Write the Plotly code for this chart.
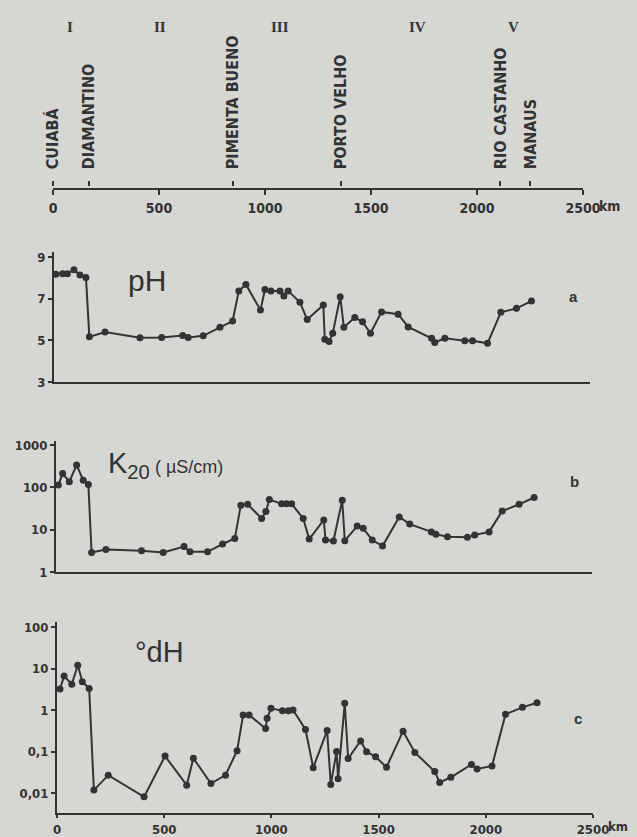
import plotly.graph_objects as go

W, H = 637, 837

# ---------------- data ----------------
ph_km = [9, 40, 62, 93, 121, 149, 165, 238, 401, 502, 600, 626, 696, 774, 833, 862, 895, 963, 984, 1012,
         1054, 1072, 1092, 1147, 1181, 1256, 1263, 1283, 1300, 1335, 1352, 1403, 1439, 1476, 1528, 1605,
         1652, 1761, 1776, 1823, 1916, 1952, 2022, 2084, 2157, 2227]
ph_val = [8.18, 8.2, 8.2, 8.4, 8.14, 8.03, 5.17, 5.4, 5.13, 5.14, 5.24, 5.14, 5.22, 5.63, 5.93, 7.38, 7.69,
          6.46, 7.45, 7.38, 7.38, 7.14, 7.38, 6.83, 6.0, 6.7, 5.05, 4.95, 5.34, 7.1, 5.63, 6.1, 5.9, 5.34,
          6.37, 6.26, 5.65, 5.1, 4.9, 5.1, 4.98, 4.98, 4.86, 6.35, 6.54, 6.89]

k_km = [11, 31, 62, 96, 127, 151, 166, 233, 399, 500, 597, 625, 707, 777, 834, 862, 894, 959, 979, 995,
        1052, 1075, 1099, 1153, 1181, 1249, 1257, 1294, 1335, 1347, 1405, 1433, 1475, 1523, 1601, 1650,
        1751, 1772, 1826, 1919, 1953, 2020, 2081, 2160, 2230]
k_val = [114, 215, 136, 340, 149, 118, 2.9, 3.4, 3.2, 2.9, 4.0, 3.0, 3.0, 4.6, 6.2, 38, 40, 18.5, 27, 52,
         41, 41, 41, 18.5, 6.0, 17, 5.7, 5.4, 50, 5.5, 12.2, 10.8, 5.7, 4.1, 20, 13.6,
         8.9, 7.8, 6.8, 6.6, 7.5, 8.9, 27.6, 40, 58]

dh_km = [14, 33, 69, 97, 118, 150, 172, 239, 406, 504, 605, 636, 718, 786, 840, 868, 896, 973, 980, 998,
         1051, 1079, 1101, 1159, 1195, 1260, 1277, 1304, 1311, 1342, 1358, 1416, 1444, 1486, 1537, 1614,
         1669, 1762, 1785, 1837, 1933, 1959, 2029, 2092, 2171, 2239]
dh_val = [3.2, 6.6, 4.2, 12, 4.8, 3.3, 0.0118, 0.027, 0.0081, 0.078, 0.0155, 0.069, 0.017, 0.027, 0.105,
          0.76, 0.76, 0.36, 0.63, 1.1, 0.96, 0.96, 1.0, 0.34, 0.041, 0.32, 0.016, 0.1, 0.022, 1.45, 0.068,
          0.18, 0.099, 0.075, 0.042, 0.31, 0.095, 0.033, 0.018, 0.024, 0.049, 0.038, 0.045, 0.79, 1.16, 1.5]

place_names = ["CUIABÁ", "DIAMANTINO", "PIMENTA BUENO", "PORTO VELHO", "RIO CASTANHO", "MANAUS"]
place_km = [0, 170, 847, 1357, 2110, 2252]
region_labels = ["I", "II", "III", "IV", "V"]
region_km = [80, 505, 1071, 1717, 2170]
dist_ticks = [0, 500, 1000, 1500, 2000, 2500]
dist_ticktext = ["0", "500", "1000", "1500", "2000", "2500"]
ph_ticks = [3, 5, 7, 9]
k_ticks = [1, 10, 100, 1000]
k_ticktext = ["1", "10", "100", "1000"]
dh_ticks = [0.01, 0.1, 1, 10, 100]
dh_ticktext = ["0,01", "0,1", "1", "10", "100"]

# ---------------- style ----------------
INK = "#333333"
BG = "#d6d6d3"
SANS = "DejaVu Sans Condensed, Liberation Sans, Arial"
SERIF = "Liberation Serif, DejaVu Serif, serif"


def px(x):
    return x / W


def py(y):
    return 1 - y / H


def series(x, y, xa, ya):
    return go.Scatter(x=x, y=y, xaxis=xa, yaxis=ya, mode="lines+markers",
                      line=dict(color=INK, width=2),
                      marker=dict(color=INK, size=7),
                      cliponaxis=False, showlegend=False, hoverinfo="x+y")


fig = go.Figure()
fig.add_trace(series(ph_km, ph_val, "x", "y"))
fig.add_trace(series(k_km, k_val, "x2", "y2"))
fig.add_trace(series(dh_km, dh_val, "x3", "y3"))
# invisible carriers for the top distance scale
fig.add_trace(go.Scatter(x=place_km, y=[0.5] * len(place_km), xaxis="x5", yaxis="y4",
                         mode="markers", marker=dict(opacity=0), showlegend=False, hoverinfo="skip"))
fig.add_trace(go.Scatter(x=dist_ticks, y=[0.5] * len(dist_ticks), xaxis="x4", yaxis="y4",
                         mode="markers", marker=dict(opacity=0), showlegend=False, hoverinfo="skip"))

TICKFONT = dict(family=SANS, size=14, color=INK, weight="bold")

base_x = dict(range=[0, 2500], showgrid=False, zeroline=False, showline=True,
              linecolor=INK, linewidth=2, fixedrange=True, automargin=False)
base_y = dict(showgrid=False, zeroline=False, showline=True, linecolor=INK, linewidth=2,
              ticks="outside", ticklen=4, tickwidth=1.5, tickcolor=INK, automargin=False,
              tickfont=dict(TICKFONT, size=13), fixedrange=True)

fig.update_layout(
    width=W, height=H,
    margin=dict(l=0, r=0, t=0, b=0, autoexpand=False),
    paper_bgcolor=BG, plot_bgcolor="rgba(0,0,0,0)",
    showlegend=False,
    # pH panel
    xaxis=dict(base_x, domain=[px(54), px(590)], anchor="y", ticks="", showticklabels=False),
    yaxis=dict(base_y, domain=[py(382), py(252)], range=[3, 9.25], anchor="x",
               tickvals=ph_ticks),
    # conductivity panel
    xaxis2=dict(base_x, domain=[px(56), px(592)], anchor="y2", ticks="", showticklabels=False),
    yaxis2=dict(base_y, domain=[py(572), py(441)], type="log", range=[0, 3.1], anchor="x2",
                tickvals=k_ticks, ticktext=k_ticktext),
    # hardness panel
    xaxis3=dict(base_x, domain=[px(57), px(593)], anchor="y3", ticks="outside", ticklen=3,
                tickwidth=1.5, tickcolor=INK, tickvals=dist_ticks, ticktext=dist_ticktext,
                ticklabelstandoff=0, tickfont=dict(TICKFONT, size=13)),
    yaxis3=dict(base_y, domain=[py(813), py(622)], type="log", range=[-2.48, 2.12], anchor="x3",
                tickvals=dh_ticks, ticktext=dh_ticktext),
    # top distance scale
    xaxis4=dict(base_x, domain=[px(53), px(583)], anchor="y4", ticks="outside", ticklen=5,
                tickwidth=1.5, tickcolor=INK, tickvals=dist_ticks, ticktext=dist_ticktext,
                ticklabelstandoff=1, tickfont=dict(TICKFONT, size=14)),
    yaxis4=dict(domain=[py(188), py(187.4)], range=[0, 1], visible=False, anchor="x4",
                fixedrange=True, automargin=False),
    xaxis5=dict(range=[0, 2500], overlaying="x4", anchor="y4", side="top", showgrid=False,
                zeroline=False, showline=False, ticks="outside", ticklen=5, tickwidth=1.5,
                tickcolor=INK, tickvals=place_km, ticktext=place_names, tickangle=-90,
                ticklabelstandoff=9, automargin=False,
                tickfont=dict(TICKFONT, size=16), fixedrange=True),
)

ann = []
C = dict(showarrow=False, xanchor="center", yanchor="middle")
L = dict(showarrow=False, xanchor="left", yanchor="middle")
# region numerals
for lab, km in zip(region_labels, region_km):
    ann.append(dict(C, x=km, y=py(27), xref="x4", yref="paper", text=lab,
                    font=dict(family=SERIF, size=15, color=INK, weight="bold")))
# km unit labels
ann.append(dict(L, x=2500, y=py(206), xref="x4", yref="paper", text="km", xshift=14,
                font=dict(TICKFONT, size=14)))
ann.append(dict(L, x=2500, y=py(826), xref="x3", yref="paper", text="km", xshift=13,
                font=dict(TICKFONT, size=13)))
# panel titles
ann.append(dict(L, x=px(126), y=py(280), xref="paper", yref="paper", text="pH",
                font=dict(family="Liberation Sans, Arial", size=30, color=INK)))
ann.append(dict(L, x=px(106), y=py(465), xref="paper", yref="paper",
                text="K<sub>20</sub><span style='font-size:18px'> ( µS/cm)</span>",
                font=dict(family="Liberation Sans, Arial", size=29, color=INK)))
ann.append(dict(L, x=px(133), y=py(652), xref="paper", yref="paper", text="°dH",
                font=dict(family="Liberation Sans, Arial", size=29, color=INK)))
# panel letters
for letter, xx, yy in [("a", 573, 296), ("b", 574, 481), ("c", 578, 718)]:
    ann.append(dict(C, x=px(xx), y=py(yy), xref="paper", yref="paper", text=letter,
                    font=dict(family="Liberation Sans, Arial", size=15, color=INK, weight="bold")))
fig.update_layout(annotations=ann)

fig.write_html(
    "out.html",
    config={"displayModeBar": False},
    post_script=(
        "document.body.style.margin='0';document.body.style.padding='0';"
        "document.body.style.background='" + BG + "';"
        "document.documentElement.style.overflow='hidden';"
    ),
)
